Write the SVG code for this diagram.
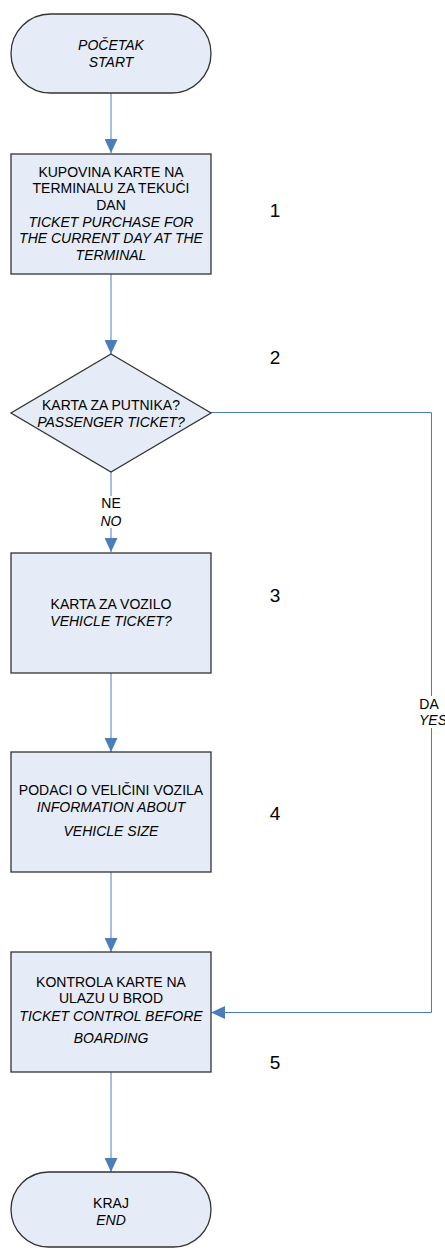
<svg xmlns="http://www.w3.org/2000/svg" width="445" height="1249" viewBox="0 0 445 1249">
<defs>
<style>
.shape{fill:#E6ECF7;stroke:#333333;stroke-width:1.3}
.t{font-family:"Liberation Sans",Arial,sans-serif;font-size:14px;fill:#000;text-anchor:middle}
.i{font-style:italic}
.num{font-family:"Liberation Sans",Arial,sans-serif;font-size:19px;fill:#000;text-anchor:middle}
.line{fill:none;stroke:#4A7EBB;stroke-width:1}
.bg{fill:#fff}
</style>
<marker id="arr" viewBox="0 0 14 13" refX="14" refY="6.5" markerWidth="14" markerHeight="13" markerUnits="userSpaceOnUse" orient="auto">
<path d="M0,0 L14,6.5 L0,13 Z" fill="#4A7EBB"/>
</marker>
</defs>
<rect width="445" height="1249" fill="#fff"/>
<g id="connectors">
<path class="line" d="M111,93 V153" marker-end="url(#arr)"/>
<path class="line" d="M111,274 V354" marker-end="url(#arr)"/>
<path class="line" d="M111,472 V552" marker-end="url(#arr)"/>
<path class="line" d="M111,673 V752" marker-end="url(#arr)"/>
<path class="line" d="M111,872 V952" marker-end="url(#arr)"/>
<path class="line" d="M111,1072 V1172" marker-end="url(#arr)"/>
<path class="line" d="M211,412.5 H431.5 V1012.5 H211" marker-end="url(#arr)"/>
<rect class="bg" x="98" y="496" width="26" height="32"/>
<text class="t" x="111" y="508">NE</text>
<text class="t i" x="111" y="526">NO</text>
<rect class="bg" x="418" y="696" width="27" height="32"/>
<text class="t" x="429" y="709">DA</text>
<text class="t i" x="433" y="725">YES</text>
</g>
<g id="start">
<rect class="shape" x="11" y="14" width="200" height="79" rx="39.5" ry="39.5"/>
<text class="t i" x="111" y="50">POČETAK</text>
<text class="t i" x="111" y="67">START</text>
</g>
<g id="step1">
<rect class="shape" x="11" y="154" width="200" height="120"/>
<text class="t" x="111" y="177">KUPOVINA KARTE NA</text>
<text class="t" x="111" y="193">TERMINALU ZA TEKUĆI</text>
<text class="t" x="111" y="210">DAN</text>
<text class="t i" x="111" y="227">TICKET PURCHASE FOR</text>
<text class="t i" x="111" y="243">THE CURRENT DAY AT THE</text>
<text class="t i" x="111" y="260">TERMINAL</text>
<text class="num" x="275" y="217">1</text>
</g>
<g id="decision">
<path class="shape" d="M111,354 L211,413 L111,472 L11,413 Z"/>
<text class="t" x="111" y="410">KARTA ZA PUTNIKA?</text>
<text class="t i" x="111" y="427">PASSENGER TICKET?</text>
<text class="num" x="275" y="364">2</text>
</g>
<g id="step3">
<rect class="shape" x="11" y="553" width="200" height="120"/>
<text class="t" x="111" y="609">KARTA ZA VOZILO</text>
<text class="t i" x="111" y="626">VEHICLE TICKET?</text>
<text class="num" x="275" y="602">3</text>
</g>
<g id="step4">
<rect class="shape" x="11" y="752" width="200" height="120"/>
<text class="t" x="111" y="795">PODACI O VELIČINI VOZILA</text>
<text class="t i" x="111" y="812">INFORMATION ABOUT</text>
<text class="t i" x="111" y="836">VEHICLE SIZE</text>
<text class="num" x="275" y="820">4</text>
</g>
<g id="step5">
<rect class="shape" x="11" y="952" width="200" height="120"/>
<text class="t" x="111" y="987">KONTROLA KARTE NA</text>
<text class="t" x="111" y="1003">ULAZU U BROD</text>
<text class="t i" x="111" y="1021">TICKET CONTROL BEFORE</text>
<text class="t i" x="111" y="1043">BOARDING</text>
<text class="num" x="275" y="1069">5</text>
</g>
<g id="end">
<rect class="shape" x="11" y="1172" width="200" height="75" rx="37.5" ry="37.5"/>
<text class="t" x="111" y="1208">KRAJ</text>
<text class="t i" x="111" y="1225">END</text>
</g>
</svg>
